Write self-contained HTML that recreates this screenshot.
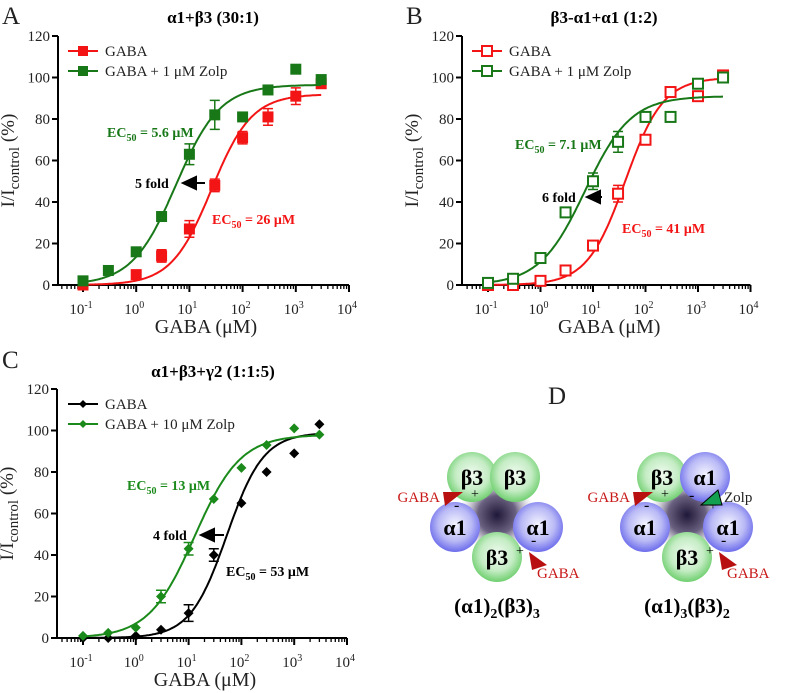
<!DOCTYPE html>
<html><head><meta charset="utf-8">
<style>
body{margin:0;background:#fff;}
svg{display:block;font-family:"Liberation Serif",serif;}
</style></head>
<body>
<svg id="fig" width="787" height="693" viewBox="0 0 787 693">
<defs>
<radialGradient id="gGreen" cx="50%" cy="45%" r="55%"><stop offset="0" stop-color="#f2fbf2"/><stop offset="0.6" stop-color="#c4ecc4"/><stop offset="1" stop-color="#6fcf6f"/></radialGradient>
<radialGradient id="gBlue" cx="50%" cy="45%" r="55%"><stop offset="0" stop-color="#f4f4ff"/><stop offset="0.6" stop-color="#babaf6"/><stop offset="1" stop-color="#6c6cec"/></radialGradient>
<radialGradient id="gDark" cx="50%" cy="50%" r="50%"><stop offset="0" stop-color="#201838"/><stop offset="0.5" stop-color="#6a6080"/><stop offset="1" stop-color="#c8c8d0" stop-opacity="0"/></radialGradient>
</defs>
</svg>
<script>
// ---- Panel A data ----
const concA = [0.1,0.3,1,3,10,30,100,300,1000,3000];
const gabaA = [0,null,5,14,27,48,71,81,91,97];
const gabaAErr = [0,0,1,3,4,3,3,4,4,0];
const zolpA = [2,7,16,33,63,82,81,94,104,99];
const zolpAErr = [0,0,0,0,5,7,0,0,0,0];
const fitA_gaba = [0,92,26,1.15];
const fitA_zolp = [0,96.5,5.6,1.05];
// ---- Panel B data ----
const concB = [0.1,0.3,1,3,10,30,100,300,1000,3000];
const gabaB = [0,0,2,7,19,44,70,93,91,101];
const gabaBErr = [0,0,0,0,2,4,0,0,0,0];
const zolpB = [1,3,13,35,50,69,81,81,97,100];
const zolpBErr = [0,0,0,0,4,5,0,0,0,0];
const fitB_gaba = [0,100,41,1.2];
const fitB_zolp = [0,91,7.1,1.0];
// ---- Panel C data ----
const concC = [0.1,0.3,1,3,10,30,100,300,1000,3000];
const gabaC = [0,0,1,4,12,40,65,80,89,103];
const gabaCErr = [0,0,0,0,4,3,0,0,0,0];
const zolpC = [1,2.5,5,20,43,67,82,93,101,98];
const zolpCErr = [0,0,0,3,3,0,0,0,0,0];
const fitC_gaba = [0,99,53,1.25];
const fitC_zolp = [0,98,13,1.0];
const yTicks = [0,20,40,60,80,100,120];
const xDecades = [-1,0,1,2,3,4];

const NS="http://www.w3.org/2000/svg";
const svg=document.getElementById('fig');
function mk(tag,attrs,parent){const e=document.createElementNS(NS,tag);for(const k in attrs)e.setAttribute(k,attrs[k]);(parent||svg).appendChild(e);return e;}
function txt(x,y,s,attrs,parent){const t=mk('text',Object.assign({x:x,y:y},attrs||{}),parent);t.innerHTML=s;return t;}

function panel(P){
  const g=mk('g',{});
  
  
  const X=v=>P.x0+(Math.log10(v)+1)*P.dec;
  const Y=v=>P.y0-v*(P.y0-P.y120)/120;
  // axes
  const ya=mk('line',{x1:P.ax,y1:P.y120,x2:P.ax,y2:P.y0+1,stroke:'#000','stroke-width':2},g);
  
  const xa=mk('line',{x1:P.ax-1,y1:P.y0,x2:X(10000),y2:P.y0,stroke:'#000','stroke-width':2},g);
  
  yTicks.forEach(v=>{
    mk('line',{x1:P.ax-6,y1:Y(v),x2:P.ax,y2:Y(v),stroke:'#000','stroke-width':2},g);
    const t=txt(P.ax-8,Y(v)+5,String(v),{'font-size':15,'text-anchor':'end',fill:'#222'},g);
    
  });
  xDecades.forEach(d=>{
    const xx=X(Math.pow(10,d));
    mk('line',{x1:xx,y1:P.y0,x2:xx,y2:P.y0+7,stroke:'#000','stroke-width':2},g);
    const t=txt(xx-2,P.y0+29,'10<tspan dy="-6" font-size="10">'+d+'</tspan>',{'font-size':15,'text-anchor':'middle',fill:'#222'},g);
    
  });
  for(let d=-2;d<4;d++)for(let m=2;m<10;m++){const v=m*Math.pow(10,d);const xx=X(v);if(xx<P.ax+1)continue;
    mk('line',{x1:xx,y1:P.y0,x2:xx,y2:P.y0+4,stroke:'#000','stroke-width':1.3},g);}
  // labels
  let t=txt(P.ax-44,(P.y0+P.y120)/2,'I/I<tspan dy="5" font-size="15">control</tspan><tspan dy="-5"> (%)</tspan>',{'font-size':19,'text-anchor':'middle',transform:'rotate(-90 '+(P.ax-44)+' '+((P.y0+P.y120)/2)+')',fill:'#222'},g);
  
  t=txt((X(0.1)+X(10000))/2-10,P.y0+48,'GABA (μM)',{'font-size':20,'text-anchor':'middle',fill:'#222'},g);
  
  t=txt(P.tx,P.ty,P.title,{'font-size':17,'font-weight':'bold','text-anchor':'middle'},g);
  
  t=txt(P.lx,P.ly,P.letter,{'font-size':25,fill:'#222'},g);
  
  // series
  P.series.forEach((s,si)=>{
    const sg=mk('g',{},g);
    
    let d='';
    for(let i=0;i<=200;i++){const lx=-1+i*(Math.log10(3000)+1)/200;const c=Math.pow(10,lx);
      const f=s.fit;const v=f[0]+(f[1]-f[0])/(1+Math.pow(f[2]/c,f[3]));
      d+=(i?'L':'M')+X(c).toFixed(1)+','+Y(v).toFixed(1);}
    const cp=mk('path',{d:d,fill:'none',stroke:s.color,'stroke-width':2},sg);
    
    s.conc.forEach((c,i)=>{const v=s.vals[i];if(v===null)return;
      const cx=X(c),cy=Y(v);const e=s.err[i];
      if(e>0){mk('path',{d:`M${cx},${Y(v-e)}V${Y(v+e)}M${cx-5},${Y(v-e)}H${cx+5}M${cx-5},${Y(v+e)}H${cx+5}`,stroke:s.color,'stroke-width':1.5,fill:'none'},sg);}
      let m;
      if(P.marker==='fill') m=mk('rect',{x:cx-5.5,y:cy-5.5,width:11,height:11,fill:s.color},sg);
      else if(P.marker==='open') m=mk('rect',{x:cx-5,y:cy-5,width:10,height:10,fill:'#fff',stroke:s.color,'stroke-width':2},sg);
      else m=mk('path',{d:`M${cx},${cy-5}L${cx+5},${cy}L${cx},${cy+5}L${cx-5},${cy}Z`,fill:s.color},sg);
      
    });
    // legend
    const ly=P.legY+si*20, lx=P.legX;
    const lg=mk('g',{},g);
    
    mk('line',{x1:lx,y1:ly,x2:lx+30,y2:ly,stroke:s.color,'stroke-width':2},lg);
    const mx=lx+15;
    if(P.marker==='fill') mk('rect',{x:mx-5,y:ly-5,width:10,height:10,fill:s.color},lg);
    else if(P.marker==='open') mk('rect',{x:mx-5,y:ly-5,width:10,height:10,fill:'#fff',stroke:s.color,'stroke-width':2},lg);
    else mk('path',{d:`M${mx},${ly-4}L${mx+4},${ly}L${mx},${ly+4}L${mx-4},${ly}Z`,fill:s.color},lg);
    txt(lx+37,ly+5,s.label,{'font-size':15,fill:'#222'},lg);
  });
  // annotations
  P.ann.forEach(a=>{const t=txt(a[0],a[1],a[2],{'font-size':14,'font-weight':'bold',fill:a[3]},g);
    });
  const f=P.fold;
  t=txt(f[0],f[1],f[2],{'font-size':14,'font-weight':'bold'},g);
  
  const ar=mk('path',{d:`M${f[3]},${f[1]-5}L${f[4]+12},${f[1]-5}M${f[4]},${f[1]-5}L${f[4]+13},${f[1]-11}L${f[4]+13},${f[1]+1}Z`,stroke:'#000','stroke-width':2,fill:'#000'},g);
  
}

const RED='#f31515',GREEN='#187818',BLK='#000',GREENC='#1a8a1a';
panel({name:'panel-a',letter:'A',lx:2,ly:24,title:'α1+β3 (30:1)',tx:213,ty:23,ax:58,x0:83,dec:53.2,y0:285,y120:36,marker:'fill',legX:68,legY:51,
  series:[{name:'series-gaba',conc:concA,vals:gabaA,err:gabaAErr,fit:fitA_gaba,color:RED,label:'GABA'},
          {name:'series-gaba-zolp',conc:concA,vals:zolpA,err:zolpAErr,fit:fitA_zolp,color:GREEN,label:'GABA + 1 μM Zolp'}],
  ann:[[107,137,'EC<tspan dy="4" font-size="10">50</tspan><tspan dy="-4"> = 5.6 μM</tspan>',GREEN],[212,224,'EC<tspan dy="4" font-size="10">50</tspan><tspan dy="-4"> = 26 μM</tspan>',RED]],
  fold:[135,188,'5 fold',205,183]});
panel({name:'panel-b',letter:'B',lx:406,ly:24,title:'β3-α1+α1 (1:2)',tx:604,ty:23,ax:462,x0:488,dec:52.5,y0:285,y120:36,marker:'open',legX:472,legY:51,
  series:[{name:'series-gaba',conc:concB,vals:gabaB,err:gabaBErr,fit:fitB_gaba,color:RED,label:'GABA'},
          {name:'series-gaba-zolp',conc:concB,vals:zolpB,err:zolpBErr,fit:fitB_zolp,color:GREEN,label:'GABA + 1 μM Zolp'}],
  ann:[[515,149,'EC<tspan dy="4" font-size="10">50</tspan><tspan dy="-4"> = 7.1 μM</tspan>',GREEN],[622,233,'EC<tspan dy="4" font-size="10">50</tspan><tspan dy="-4"> = 41 μM</tspan>',RED]],
  fold:[542,202,'6 fold',602,587]});
panel({name:'panel-c',letter:'C',lx:2,ly:368,title:'α1+β3+γ2 (1:1:5)',tx:213,ty:377,ax:57,x0:83,dec:52.8,y0:638,y120:389,marker:'diam',legX:68,legY:404,
  series:[{name:'series-gaba',conc:concC,vals:gabaC,err:gabaCErr,fit:fitC_gaba,color:BLK,label:'GABA'},
          {name:'series-gaba-zolp',conc:concC,vals:zolpC,err:zolpCErr,fit:fitC_zolp,color:GREENC,label:'GABA + 10 μM Zolp'}],
  ann:[[127,490,'EC<tspan dy="4" font-size="10">50</tspan><tspan dy="-4"> = 13 μM</tspan>',GREENC],[226,576,'EC<tspan dy="4" font-size="10">50</tspan><tspan dy="-4"> = 53 μM</tspan>',BLK]],
  fold:[153,540,'4 fold',224,201]});

// ---- Panel D ----
const D=mk('g',{});

let tD=txt(548,404,'D',{'font-size':25,fill:'#222'},D);

function pent(ox,types,caption,zolp){
  const pg=mk('g',{},D);
  
  mk('circle',{cx:ox,cy:515,r:38,fill:'url(#gDark)'},pg);
  const pos=[[-25,-38],[18,-38],[-42,12],[41,12],[0,42]];
  pos.forEach((p,i)=>{const isB=types[i]==='β3';
    mk('circle',{cx:ox+p[0],cy:515+p[1],r:25,fill:isB?'url(#gGreen)':'url(#gBlue)'},pg);
    txt(ox+p[0],515+p[1]+8,types[i],{'font-size':22,'font-weight':'bold','text-anchor':'middle'},pg);});
  // signs
  txt(ox-26,498,'+',{'font-size':14},pg);txt(ox-43,510,'-',{'font-size':16},pg);
  txt(ox+34,545,'-',{'font-size':16},pg);txt(ox+19,555,'+',{'font-size':14},pg);
  // GABA triangles
  mk('path',{d:`M${ox-54},492 L${ox-34},492 L${ox-52},506 Z`,fill:'#b81010'},pg);
  mk('path',{d:`M${ox+32},552 L${ox+35},570 L${ox+50},565 Z`,fill:'#b81010'},pg);
  txt(ox+40,578,'GABA',{'font-size':15,fill:'#c81818'},pg);
  if(zolp){
    txt(ox+2,500,'-',{'font-size':16},pg);txt(ox+22,510,'+',{'font-size':14},pg);
    mk('path',{d:`M${ox+14},505 L${ox+31},490 L${ox+35},505 Z`,fill:'#12a050',stroke:'#000','stroke-width':1},pg);
    txt(ox+37,502,'Zolp',{'font-size':15,fill:'#222'},pg);
    txt(ox-57,502,'GABA',{'font-size':15,fill:'#c81818','text-anchor':'end'},pg);
  } else {
    txt(ox-57,502,'GABA',{'font-size':15,fill:'#c81818','text-anchor':'end'},pg);
  }
  const c=txt(ox,613,caption,{'font-size':21,'font-weight':'bold','text-anchor':'middle'},pg);
  
}
pent(497,['β3','β3','α1','α1','β3'],'(α1)<tspan dy="5" font-size="14">2</tspan><tspan dy="-5">(β3)</tspan><tspan dy="5" font-size="14">3</tspan>',false);
pent(687,['β3','α1','α1','α1','β3'],'(α1)<tspan dy="5" font-size="14">3</tspan><tspan dy="-5">(β3)</tspan><tspan dy="5" font-size="14">2</tspan>',true);
</script>
</body></html>
